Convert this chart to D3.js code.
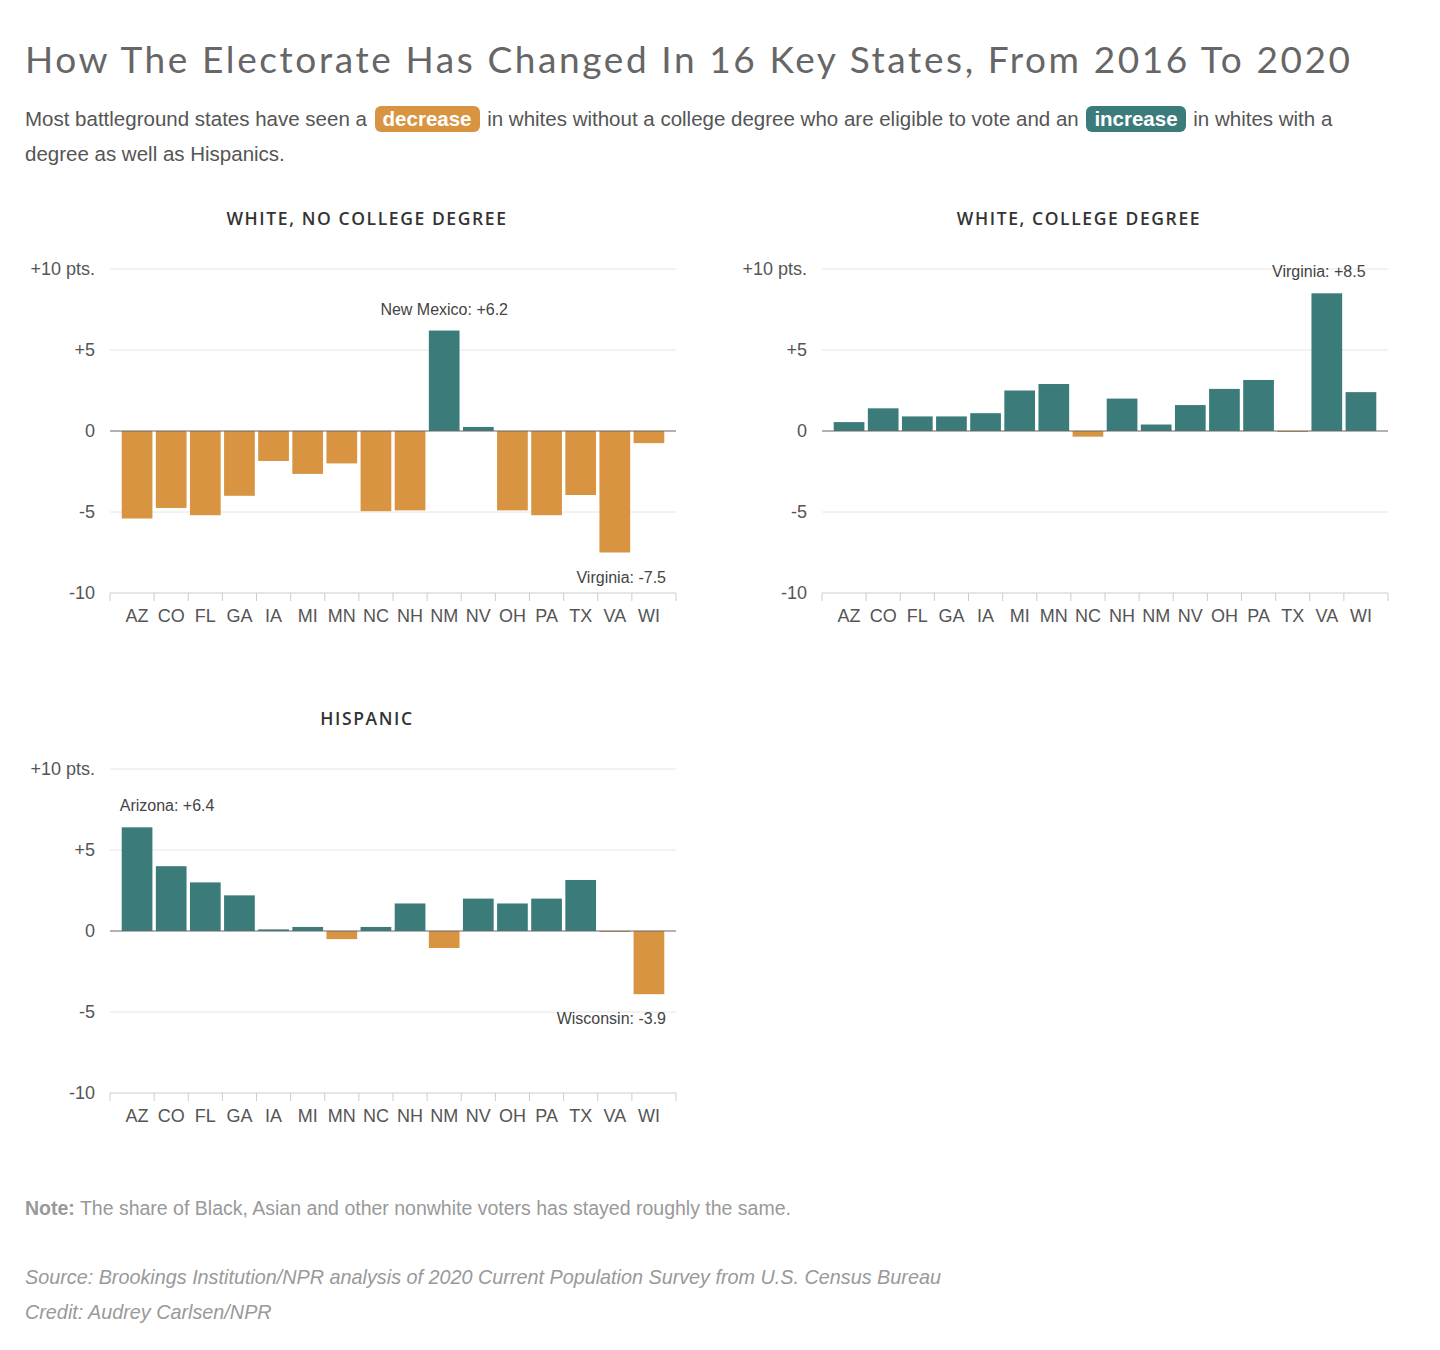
<!DOCTYPE html>
<html><head><meta charset="utf-8">
<script src="https://cdn.jsdelivr.net/npm/d3@7"></script>
<style>
body{margin:0;background:#fff;font-family:"Liberation Sans",Arial,sans-serif;}
.t{position:absolute;left:25px;top:36px;font-family:"Lato",sans-serif;font-size:37px;color:#666;letter-spacing:2.6px;white-space:nowrap}
.s{position:absolute;left:25px;top:101px;width:1375px;font-size:20.5px;line-height:35px;color:#555}
.pill{color:#fff;font-weight:bold;border-radius:6px;padding:0 8px;margin:0 2px;display:inline-block;line-height:26px}
</style></head><body>
<div class="t">How The Electorate Has Changed In 16 Key States, From 2016 To 2020</div>
<div class="s">Most battleground states have seen a <span class="pill" style="background:#d89441">decrease</span> in whites without a college degree who are eligible to vote and an <span class="pill" style="background:#3b7c7b">increase</span> in whites with a degree as well as Hispanics.</div>
<svg id="c" width="1440" height="1350" style="position:absolute;left:0;top:0;pointer-events:none"></svg>
<script>
const states=["AZ","CO","FL","GA","IA","MI","MN","NC","NH","NM","NV","OH","PA","TX","VA","WI"];
const whiteNoCollege=[-5.4,-4.75,-5.2,-4.0,-1.85,-2.65,-2.0,-4.95,-4.9,6.2,0.25,-4.9,-5.2,-3.95,-7.5,-0.75];
const whiteCollege=[0.55,1.4,0.9,0.9,1.1,2.5,2.9,-0.35,2.0,0.4,1.6,2.6,3.15,-0.05,8.5,2.4];
const hispanic=[6.4,4.0,3.0,2.2,0.1,0.25,-0.5,0.25,1.7,-1.05,2.0,1.7,2.0,3.15,-0.05,-3.9];
const yTicks=[10,5,0,-5,-10];
const yTickLabels=["+10 pts.","+5","0","-5","-10"];
const panels=[
 {title:"WHITE, NO COLLEGE DEGREE",vals:whiteNoCollege,x0:110,y0:269,notes:[{i:9,text:"New Mexico: +6.2"},{i:14,text:"Virginia: -7.5"}]},
 {title:"WHITE, COLLEGE DEGREE",vals:whiteCollege,x0:822,y0:269,notes:[{i:14,text:"Virginia: +8.5"}]},
 {title:"HISPANIC",vals:hispanic,x0:110,y0:769,notes:[{i:0,text:"Arizona: +6.4"},{i:15,text:"Wisconsin: -3.9"}]}
];
const svg=d3.select("#c");
panels.forEach(p=>{
  const W=566,H=324;
  const g=svg.append("g").attr("transform",`translate(${p.x0},${p.y0})`);
  const x=d3.scaleBand().domain(states).range([10,W-10]).paddingInner(0.1).paddingOuter(0.05);
  const y=d3.scaleLinear().domain([-10,10]).range([H,0]);
  g.append("text").attr("x",257).attr("y",-44).attr("text-anchor","middle")
   .attr("font-family","'Open Sans',sans-serif").attr("font-weight","600").attr("font-size",17.5).attr("letter-spacing",1.6).attr("fill","#333").text(p.title);
  yTicks.forEach((t,i)=>{
    if(t!==-10&&t!==0) g.append("line").attr("x1",0).attr("x2",W).attr("y1",y(t)).attr("y2",y(t)).attr("stroke","#e6e6e6");
    g.append("text").attr("x",-15).attr("y",y(t)+6).attr("text-anchor","end").attr("font-size",18).attr("fill","#555").text(yTickLabels[i]);
  });
  g.selectAll("rect").data(p.vals).join("rect")
   .attr("x",(d,i)=>x(states[i])).attr("width",x.bandwidth())
   .attr("y",d=>y(Math.max(0,d))).attr("height",d=>Math.max(1,Math.abs(y(d)-y(0))))
   .attr("fill",d=>d>=0?"#3b7c7b":"#d89441");
  g.append("line").attr("x1",0).attr("x2",W).attr("y1",y(0)).attr("y2",y(0)).attr("stroke","#666");
  const ax=g.append("g").attr("transform",`translate(0,${H})`);
  ax.append("line").attr("x1",0).attr("x2",W).attr("stroke","#ccc");
  const bounds=[0].concat(states.map(s=>x(s)+x.bandwidth()+x.step()*x.paddingInner()/2).slice(0,-1)).concat([W]);
  bounds.forEach(b=>ax.append("line").attr("x1",b).attr("x2",b).attr("y1",0).attr("y2",8).attr("stroke","#ccc"));
  states.forEach(s=>ax.append("text").attr("x",x(s)+x.bandwidth()/2).attr("y",29).attr("text-anchor","middle").attr("font-size",18).attr("fill","#555").text(s));
  p.notes.forEach(n=>{
    const v=p.vals[n.i];
    let tx=x(states[n.i])+x.bandwidth()/2, anchor="middle";
    if(n.i===0){tx=x(states[0])-2;anchor="start";}
    if(n.i===15){tx=W-10;anchor="end";}
    if(n.i===14&&v>0){tx=x(states[14])+x.bandwidth()/2-8;}
    if(n.i===14&&v<0){tx=W-10;anchor="end";}
    const ty=v>0?y(v)-16:y(v)+30;
    g.append("text").attr("x",tx).attr("y",ty).attr("text-anchor",anchor).attr("font-size",16).attr("fill","#444").text(n.text);
  });
});
svg.append("text").attr("x",25).attr("y",1215).attr("font-size",19.5).attr("fill","#999")
 .html('<tspan font-weight="bold">Note:</tspan> The share of Black, Asian and other nonwhite voters has stayed roughly the same.');
svg.append("text").attr("x",25).attr("y",1284).attr("font-size",19.8).attr("font-style","italic").attr("fill","#999")
 .text("Source: Brookings Institution/NPR analysis of 2020 Current Population Survey from U.S. Census Bureau");
svg.append("text").attr("x",25).attr("y",1319).attr("font-size",19.8).attr("font-style","italic").attr("fill","#999")
 .text("Credit: Audrey Carlsen/NPR");
</script></body></html>
